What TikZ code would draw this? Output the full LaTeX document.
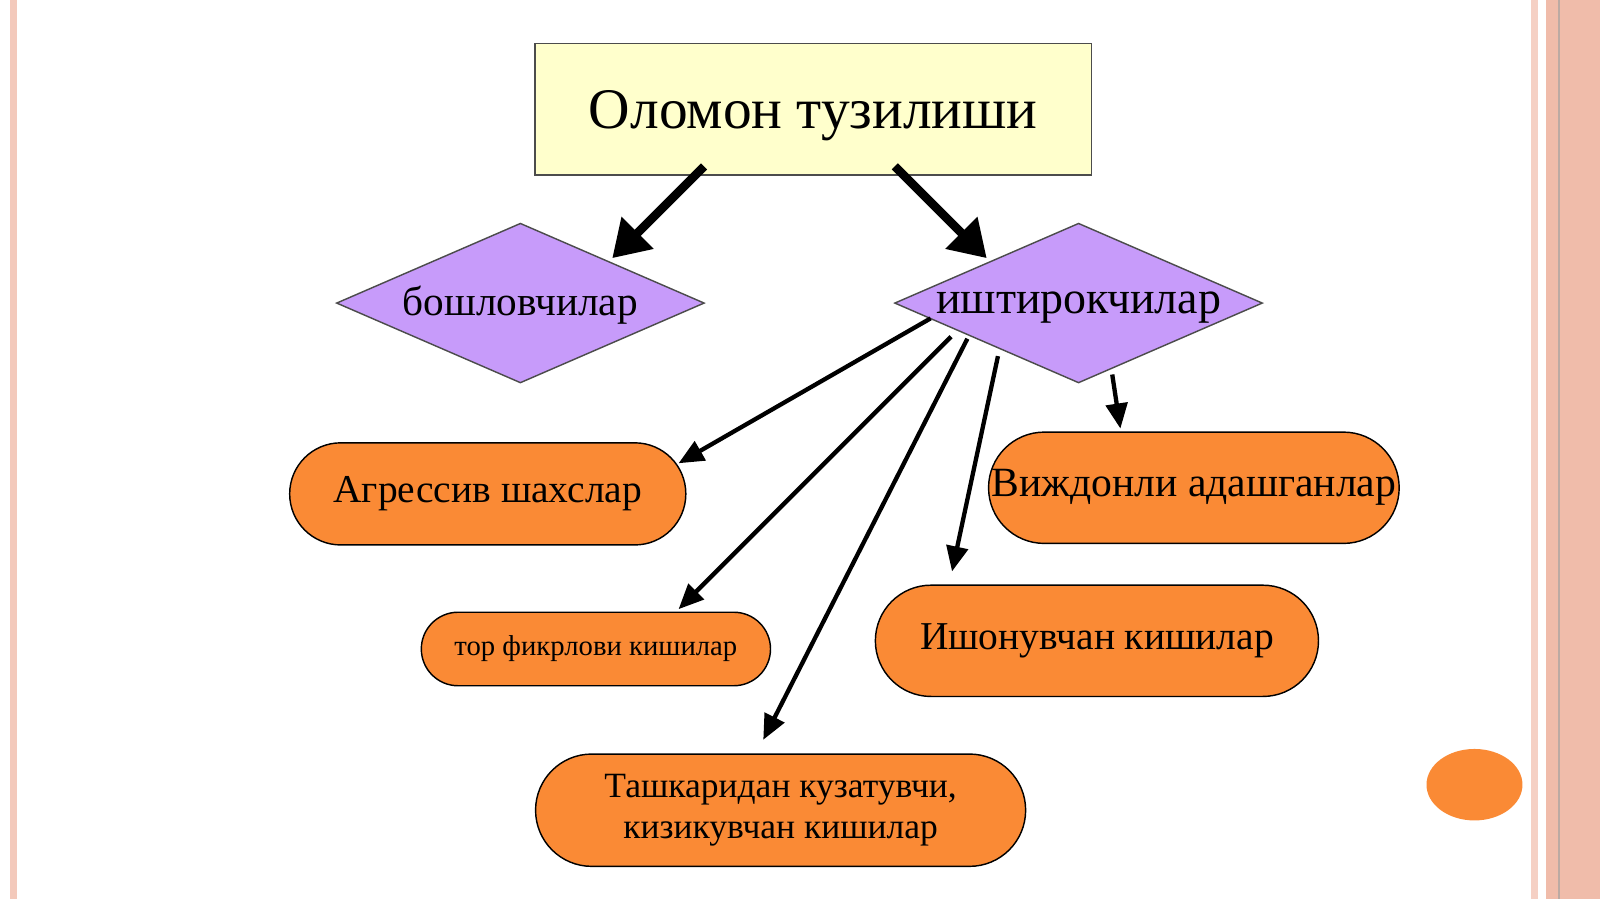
\documentclass[tikz,border=0pt]{standalone}
\usepackage{fontspec}
\setmainfont{Liberation Serif}
\usetikzlibrary{shapes.geometric,shapes.misc,arrows.meta}
\definecolor{ttl}{HTML}{FFFFCC}
\definecolor{dia}{HTML}{C79BFA}
\definecolor{org}{HTML}{FA8A35}
\definecolor{pnk}{HTML}{F0BCAA}
\begin{document}
\begin{tikzpicture}[x=0.01cm,y=-0.01cm,
  diashape/.style={draw=black!70,fill=dia},
  pill/.style={rounded rectangle,draw=black,fill=org,inner sep=0pt,font=\fontsize{11}{13}\selectfont},
  thick arr/.style={line width=2.4pt,-{Triangle[length=10pt,width=12pt]}},
  thin arr/.style={line width=1.2pt,-{Triangle[length=7pt,width=6pt]}}]
\useasboundingbox (0,0) rectangle (1568,881);
\fill[white] (0,0) rectangle (1568,881);
\fill[pnk!80] (10,0) rectangle (17,881);
\fill[pnk!70] (1500,0) rectangle (1507,881);
\fill[pnk] (1515,0) rectangle (1568,881);
\draw[pnk!60!black!60,line width=0.5pt] (1528,0) -- (1528,881);
\node[draw=black!70,fill=ttl,minimum width=5.45cm,minimum height=1.29cm] (title) at (797,107) {};
\node[font=\fontsize{16}{18}\selectfont] (titletext) at (797,113) {Оломон тузилиши};
\draw[diashape] (330,297) -- (510,219) -- (690,297) -- (510,375) -- cycle;
\draw[diashape] (877,297) -- (1057,219) -- (1237,297) -- (1057,375) -- cycle;
\node[font=\fontsize{11.5}{14}\selectfont] (lead) at (510,299) {бошловчилар};
\node[font=\fontsize{12.8}{16}\selectfont] (part) at (1057,301) {иштирокчилар};
\node[pill,minimum width=3.88cm,minimum height=1.0cm] (agr) at (478,484) {Агрессив шахслар};
\node[pill,minimum width=4.01cm,minimum height=1.09cm,font=\fontsize{11.6}{14}\selectfont] (vij) at (1170,478) {Виждонли адашганлар};
\node[pill,minimum width=3.42cm,minimum height=0.72cm,font=\fontsize{8}{10}\selectfont] (tor) at (584,636) {тор фикрлови кишилар};
\node[pill,minimum width=4.34cm,minimum height=1.09cm] (ish) at (1075,628) {Ишонувчан кишилар};
\node[pill,minimum width=4.8cm,minimum height=1.1cm,align=center,font=\fontsize{9.9}{11.5}\selectfont] (tash) at (765,794) {Ташкаридан кузатувчи,\\ кизикувчан кишилар};
\node[ellipse,fill=org,minimum width=0.94cm,minimum height=0.7cm,inner sep=0pt] (dot) at (1445,769) {};
\coordinate (t1) at (690,163); \coordinate (t2) at (877,163);
\coordinate (p1) at (912,312); \coordinate (p2) at (932,330); \coordinate (p3) at (948,332);
\coordinate (p4) at (978,349); \coordinate (p5) at (1090,367);
\coordinate (e1) at (665,454); \coordinate (e2) at (665,597); \coordinate (e3) at (748,725);
\coordinate (e4) at (933,560); \coordinate (e5) at (1098,420);
\coordinate (a1) at (600,253); \coordinate (a2) at (967,253);
\draw[thick arr] (t1) -- (a1);
\draw[thick arr] (t2) -- (a2);
\draw[thin arr] (p1) -- (e1);
\draw[thin arr] (p2) -- (e2);
\draw[thin arr] (p3) -- (e3);
\draw[thin arr] (p4) -- (e4);
\draw[thin arr] (p5) -- (e5);
\end{tikzpicture}
\end{document}
